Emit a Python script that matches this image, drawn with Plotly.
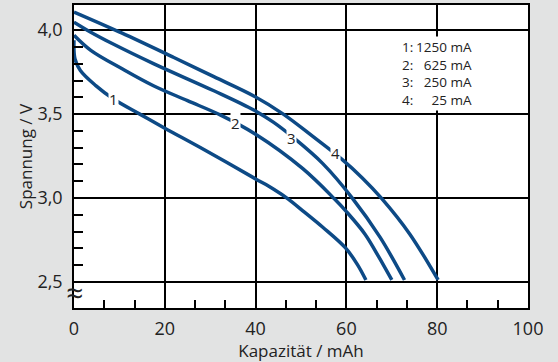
import plotly.graph_objects as go

# Entladekurven (Kapazität in mAh, Spannung in V)
cap1 = [0, 0.2, 1.4, 4.8, 8.7, 14.5, 20.0, 28.6, 40.0, 43.9, 47.2, 50.4, 54.8, 59.8, 62.4, 64.3]
u1 = [3.94, 3.83, 3.76, 3.67, 3.59, 3.50, 3.416, 3.289, 3.114, 3.054, 2.994, 2.924, 2.826, 2.703, 2.605, 2.512]

cap2 = [0, 3.7, 10.6, 17.5, 25.0, 32.3, 40.0, 50.4, 57.4, 60.0, 64.1, 67.1, 70.0]
u2 = [3.97, 3.88, 3.77, 3.669, 3.58, 3.494, 3.38, 3.175, 2.994, 2.919, 2.785, 2.651, 2.512]

cap3 = [0, 3.7, 8.3, 17.5, 30.8, 39.6, 43.9, 48.0, 54.8, 61.3, 67.4, 72.8]
u3 = [4.048, 3.988, 3.922, 3.801, 3.639, 3.524, 3.452, 3.367, 3.205, 3.0, 2.767, 2.512]

cap4 = [0, 10.6, 22.0, 30.8, 39.6, 46.1, 52.6, 59.1, 63.5, 67.8, 73.9, 80.2]
u4 = [4.108, 3.982, 3.837, 3.723, 3.608, 3.50, 3.367, 3.229, 3.12, 2.997, 2.788, 2.512]

curve_labels = ['1', '2', '3', '4']
label_x = [8.7, 35.6, 48.0, 57.6]
label_y = [3.59, 3.45, 3.36, 3.27]

currents_no = ['1:', '2:', '3:', '4:']
currents = ['1250 mA', '625 mA', '250 mA', '25 mA']

x_ticks = [0, 20, 40, 60, 80, 100]
y_ticks = [2.5, 3.0, 3.5, 4.0]
y_ticktext = ['2,5', '3,0', '3,5', '4,0']

blue = '#0d4a86'
fig = go.Figure()
for cx, cy in [(cap1, u1), (cap2, u2), (cap3, u3), (cap4, u4)]:
    fig.add_trace(go.Scatter(x=cx, y=cy, mode='lines',
                             line=dict(color=blue, width=3.5, shape='spline', smoothing=1.0),
                             showlegend=False, hoverinfo='skip'))

for t, lx, ly in zip(curve_labels, label_x, label_y):
    fig.add_annotation(x=lx, y=ly, text=t, showarrow=False, bgcolor='white',
                       font=dict(size=15, color='#222'), borderpad=0)

fig.add_annotation(x=88.1, y=3.744, text='<br>'.join(currents), showarrow=False,
                   xanchor='right', align='right', bgcolor='white', borderpad=1,
                   font=dict(size=13.5, color='#222'))
fig.add_annotation(x=71.8, y=3.744, text='<br>'.join(currents_no), showarrow=False,
                   xanchor='left', align='left', font=dict(size=13.5, color='#222'))

# Achsenbruch-Zeichen
fig.add_annotation(x=0, y=2.435, text='≈', showarrow=False,
                   font=dict(size=30, color='#222'))

x_minor = [v * 20 / 3 for v in range(16) if v % 3]
y_minor = [2.6, 2.7, 2.8, 2.9, 3.1, 3.2, 3.3, 3.4, 3.6, 3.7, 3.8, 3.9]

fig.update_xaxes(range=[0, 100], tickvals=x_ticks, ticks='', showgrid=True, automargin=False,
                 gridcolor='black', gridwidth=1.5, showline=True, linecolor='black',
                 linewidth=1.5, mirror=True, zeroline=False,
                 tickfont=dict(size=18, color='#222'), ticklabelstandoff=4,
                 minor=dict(tickmode='array', tickvals=x_minor, ticks='inside',
                            ticklen=8, tickcolor='black', tickwidth=1.5, showgrid=False),
                 title=dict(text='Kapazität / mAh', font=dict(size=17, color='#222'), standoff=0))
fig.update_yaxes(range=[2.345, 4.15], tickvals=y_ticks, ticktext=y_ticktext, ticks='',
                 showgrid=True, gridcolor='black', gridwidth=1.5, showline=True, automargin=False,
                 linecolor='black', linewidth=1.5, mirror=True, zeroline=False,
                 tickfont=dict(size=18, color='#222'), ticklabelstandoff=6,
                 minor=dict(tickmode='array', tickvals=y_minor, ticks='inside',
                            ticklen=9, tickcolor='black', tickwidth=1.5, showgrid=False),
                 title=dict(text='Spannung / V', font=dict(size=17, color='#222'), standoff=0))

fig.update_layout(width=558, height=362, margin=dict(l=74, r=30, t=5, b=54),
                  plot_bgcolor='white', paper_bgcolor='#e2e3e3',
                  font=dict(family='Open Sans'))
fig.write_html('out.html', config={'displayModeBar': False},
               post_script="document.body.style.margin='0';")
